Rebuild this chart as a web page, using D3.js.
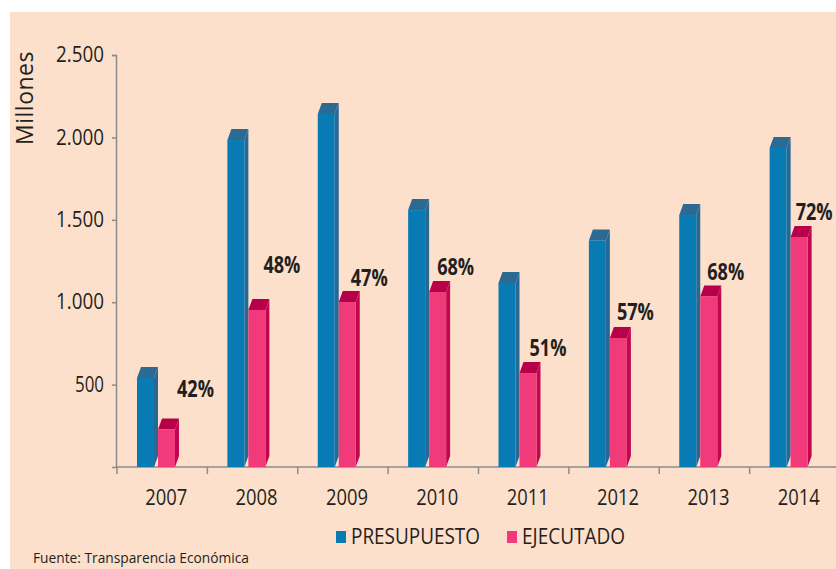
<!DOCTYPE html>
<html>
<head>
<meta charset="utf-8">
<script src="https://cdn.jsdelivr.net/npm/d3@7"></script>
<style>
  body { margin: 0; background: #fff; }
  svg text { font-family: "Open Sans", sans-serif; fill: #231f20; }
</style>
</head>
<body>
<svg id="chart" width="836" height="569"></svg>
<script>
// data (millones)
var years = ["2007", "2008", "2009", "2010", "2011", "2012", "2013", "2014"];
var presupuesto = [540, 1984, 2142, 1559, 1117, 1375, 1529, 1936];
var ejecutado = [227, 953, 1001, 1062, 570, 783, 1035, 1396];
var porcentaje = ["42%", "48%", "47%", "68%", "51%", "57%", "68%", "72%"];
var yTicks = [500, 1000, 1500, 2000, 2500];
var seriesNames = ["PRESUPUESTO", "EJECUTADO"];

// colors: front, top, side
var colors = [
    { front: "#087bb5", top: "#2b6b93", side: "#276994" },
    { front: "#f03a7a", top: "#b8004a", side: "#c2064f" }
];

// small hand nudges for the percent labels (dx from pink bar, lift above it)
var labelDx = [19, 15, 12, 8, 10, 7, 7, 5];
var labelLift = [33, 37, 16, 17, 17, 18, 16, 17];

var svg = d3.select("#chart");

svg.append("rect")
    .attr("x", 10).attr("y", 12)
    .attr("width", 826).attr("height", 557)
    .attr("fill", "#fde0cb");

var x = d3.scaleBand()
    .domain(years)
    .range([117, 840])
    .paddingInner(0);

var y = d3.scaleLinear()
    .domain([0, 2500])
    .range([467, 55]);

var locale = d3.formatLocale({ decimal: ",", thousands: ".", grouping: [3], currency: ["", ""] });
var fmt = locale.format(",");

// Y axis
var yAxis = svg.append("g")
    .attr("transform", "translate(116,0)")
    .call(d3.axisLeft(y).tickValues(yTicks).tickFormat(fmt).tickSize(4).tickSizeOuter(4).tickPadding(8));
yAxis.selectAll("path, line").attr("stroke", "#8c8c8c").attr("stroke-width", 1.5);
yAxis.selectAll("text")
    .style("font-size", "21px")
    .style("font-family", "'Open Sans', sans-serif")
    .attr("fill", "#231f20")
    .attr("textLength", function (d) { return d >= 1000 ? 48 : 29; })
    .attr("lengthAdjust", "spacingAndGlyphs");

// X axis line and ticks at band edges
var xg = svg.append("g");
xg.append("line")
    .attr("x1", 116).attr("x2", 836)
    .attr("y1", y(0)).attr("y2", y(0))
    .attr("stroke", "#8c8c8c").attr("stroke-width", 1.5);
xg.selectAll(".xtick")
    .data(years)
    .enter().append("line")
    .attr("x1", function (d) { return x(d); })
    .attr("x2", function (d) { return x(d); })
    .attr("y1", y(0)).attr("y2", y(0) + 7)
    .attr("stroke", "#8c8c8c").attr("stroke-width", 1.5);
xg.selectAll(".xlabel")
    .data(years)
    .enter().append("text")
    .attr("x", function (d) { return x(d) + x.bandwidth() / 2 + 4; })
    .attr("y", 505)
    .attr("text-anchor", "middle")
    .style("font-size", "21px")
    .attr("textLength", 42)
    .attr("lengthAdjust", "spacingAndGlyphs")
    .text(function (d) { return d; });

// 3D bars
var barW = 17, dx = 4, dy = 11, barOff = 20, step = 21;

function drawBar(g, x0, v, c) {
    var yt = y(v), yb = y(0), w = barW;
    g.append("polygon")
        .attr("points", [[x0 + w, yt], [x0 + w + dx, yt - dy], [x0 + w + dx, yb - dy], [x0 + w, yb]].join(" "))
        .attr("fill", c.side);
    g.append("polygon")
        .attr("points", [[x0, yt], [x0 + dx, yt - dy], [x0 + w + dx, yt - dy], [x0 + w, yt]].join(" "))
        .attr("fill", c.top);
    g.append("rect")
        .attr("x", x0).attr("y", yt)
        .attr("width", w).attr("height", yb - yt)
        .attr("fill", c.front);
}

var bars = svg.append("g");
years.forEach(function (yr, i) {
    var base = x(yr) + barOff;
    drawBar(bars, base, presupuesto[i], colors[0]);
    drawBar(bars, base + step, ejecutado[i], colors[1]);
});

// percent labels (smaller font stretched upward so they stay narrow)
svg.append("g").selectAll("text")
    .data(porcentaje)
    .enter().append("text")
    .attr("transform", function (d, i) {
        var lx = x(years[i]) + barOff + step + labelDx[i];
        var ly = y(ejecutado[i]) - labelLift[i];
        return "translate(" + lx + "," + ly + ") scale(1,1.18)";
    })
    .style("font-size", "19.5px")
    .style("font-weight", "bold")
    .attr("textLength", 37)
    .attr("lengthAdjust", "spacingAndGlyphs")
    .text(function (d) { return d; });

// Y title
svg.append("text")
    .attr("transform", "translate(33,98) rotate(-90)")
    .attr("text-anchor", "middle")
    .style("font-size", "23px")
    .style("letter-spacing", "0.5px")
    .text("Millones");

// legend
var legend = svg.append("g");
var legX = [336, 507];
var legW = [129, 103];
seriesNames.forEach(function (name, i) {
    legend.append("rect")
        .attr("x", legX[i]).attr("y", 531)
        .attr("width", 10).attr("height", 12)
        .attr("fill", colors[i].front);
    legend.append("text")
        .attr("x", legX[i] + 15).attr("y", 544)
        .style("font-size", "21px")
        .attr("textLength", legW[i])
        .attr("lengthAdjust", "spacingAndGlyphs")
        .text(name);
});

// source
svg.append("text")
    .attr("x", 33).attr("y", 563)
    .style("font-size", "14px")
    .attr("textLength", 216)
    .attr("lengthAdjust", "spacingAndGlyphs")
    .text("Fuente: Transparencia Económica");
</script>
</body>
</html>
